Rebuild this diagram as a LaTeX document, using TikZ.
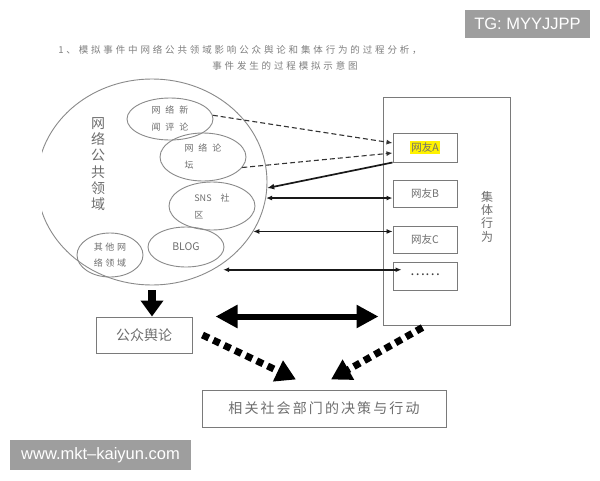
\documentclass[tikz,border=0pt]{standalone}
\usepackage{fontspec}
\setmainfont{Noto Sans CJK SC}
\newfontfamily\cjk{Noto Sans CJK SC}
\newfontfamily\cjkls[LetterSpace=30]{Noto Sans CJK SC}
\newfontfamily\cjkwide[LetterSpace=55]{Noto Sans CJK SC}
\newfontfamily\cjkmid[LetterSpace=15]{Noto Sans CJK SC}
\newfontfamily\wmfont{Liberation Sans}
\usetikzlibrary{shapes.geometric,arrows.meta}
\definecolor{lineg}{HTML}{8A8A8A}
\definecolor{boxg}{HTML}{7A7A7A}
\definecolor{txtg}{HTML}{6E6E6E}
\definecolor{wmg}{HTML}{9E9E9E}
\tikzset{
  ell/.style={ellipse, draw=lineg, line width=0.9pt, inner sep=0pt, align=left,
              font=\fontsize{9}{17}\selectfont\cjkwide, text=txtg},
  boxnode/.style={draw=boxg, line width=1pt, inner sep=0pt},
  ttl/.style={font=\fontsize{9.5}{12}\selectfont\cjkls, text=black!50, inner sep=0pt},
  dasharr/.style={draw=black!80, line width=1.1pt, dash pattern=on 5pt off 3pt,
                  -{Latex[length=6pt,width=5pt]}},
  solidarr/.style={draw=black!90, line width=1.7pt, -{Latex[length=7pt,width=6pt]}},
  dblarr/.style={draw=black!90, line width=1.3pt, {Latex[length=6pt,width=5pt]}-{Latex[length=6pt,width=5pt]}},
  bigdown/.style={draw=black, line width=8pt, -{Triangle[length=16pt,width=22pt]}},
  bigdbl/.style={draw=black, line width=6pt, {Triangle[length=22pt,width=22pt]}-{Triangle[length=22pt,width=22pt]}},
  dotarr/.style={draw=black, line width=7pt, dash pattern=on 7pt off 5pt,
                 -{Triangle[length=20pt,width=22pt]}},
  wm/.style={fill=wmg, text=white, font=\fontsize{16.5}{19}\selectfont\wmfont, inner sep=0pt}
}
\begin{document}
\begin{tikzpicture}[x=1pt,y=-1pt]
\useasboundingbox[fill=white] (0,0) rectangle (600,480);

% title
\node[ttl] (t1) at (240,50) {1、模拟事件中网络公共领域影响公众舆论和集体行为的过程分析，};
\node[ttl] (t2) at (285,66) {事件发生的过程模拟示意图};

% big circle (clipped at the left edge of the scan)
\begin{scope}
  \clip (42,60) rectangle (300,300);
  \node[ellipse, draw=lineg, line width=0.9pt, minimum width=230pt, minimum height=206pt, inner sep=0pt] (circ) at (152,182) {};
\end{scope}
\node[font=\fontsize{14}{16.2}\selectfont\cjk, text=txtg, align=center, inner sep=0pt] (circL) at (98,164) {网\\络\\公\\共\\领\\域};

% inner ellipses
\node[ell, minimum width=86pt, minimum height=42pt] (e1) at (170,119) {网络新\\闻评论};
\node[ell, minimum width=86pt, minimum height=48pt] (e2) at (203,157) {网络论\\坛};
\node[ell, minimum width=86pt, minimum height=48pt] (e3) at (212,206) {{\cjk SNS}\quad 社\\区};
\node[ell, minimum width=76pt, minimum height=40pt, font=\fontsize{10.5}{12}\selectfont\cjk] (e4) at (186,247) {BLOG};
\node[ell, minimum width=66pt, minimum height=44pt, font=\fontsize{9}{16}\selectfont\cjkls] (e5) at (110,255) {其他网\\络领域};

% collective behaviour box
\node[boxnode, minimum width=127pt, minimum height=228pt] (grp) at (446.5,211) {};
\node[font=\fontsize{12}{13.3}\selectfont\cjk, text=txtg, align=center, inner sep=0pt] (grpL) at (487,216.5) {集\\体\\行\\为};
\node[boxnode, minimum width=64pt, minimum height=29pt, font=\fontsize{10.5}{12}\selectfont\cjk, text=txtg] (A) at (425,147.5)
  {\setlength{\fboxsep}{1.5pt}\colorbox{yellow}{网友A}\hspace{12pt}};
\node[boxnode, minimum width=64pt, minimum height=27pt, font=\fontsize{10.5}{12}\selectfont\cjk, text=txtg] (B) at (425,193.5) {网友B\hspace{8pt}};
\node[boxnode, minimum width=64pt, minimum height=27pt, font=\fontsize{10.5}{12}\selectfont\cjk, text=txtg] (C) at (425,239.5) {网友C\hspace{8pt}};
\node[boxnode, minimum width=64pt, minimum height=28pt, font=\fontsize{14}{14}\selectfont\cjk, text=black!75] (D) at (425,276) {\raisebox{3pt}{……}\hspace{14pt}};

% public opinion & decision boxes
\node[boxnode, minimum width=96pt, minimum height=36pt, font=\fontsize{14}{16}\selectfont\cjk, text=txtg] (op) at (144,335) {公众舆论\hspace{12pt}};
\node[boxnode, minimum width=244pt, minimum height=37pt, font=\fontsize{14}{16}\selectfont\cjkmid, text=txtg] (dec) at (324,408.5) {相关社会部门的决策与行动};

% connectors
\draw[dasharr] (e1.5) -- ([yshift=4.5pt]A.west);
\draw[dasharr] (e2.-15) -- ([yshift=-5.5pt]A.west);
\draw[solidarr] (A.south west) -- (circ.-3);
\draw[dblarr] (circ.-8) -- (circ.-8 -| B.west);
\draw[dblarr, line width=0.9pt] (circ.-26) -- (circ.-26 -| C.west);
\coordinate (dl) at ([xshift=5pt,yshift=-3pt]circ.-52);
\draw[dblarr, line width=1.6pt, shorten >=-9pt] (dl) -- (dl -| D.west);
\draw[bigdown, shorten <=5pt] (circ.south) -- (circ.south |- op.north);
\draw[bigdbl, shorten <=23pt, shorten >=4pt] (op.north east) -- (grp.west |- op.north);
\draw[dotarr] ([xshift=10pt]op.east) -- ([xshift=-28pt,yshift=10pt]dec.north);
\draw[dotarr] ([xshift=40pt,yshift=-2pt]grp.south west) -- ([xshift=7pt,yshift=10pt]dec.north);

% watermarks
\node[wm, minimum width=125pt, minimum height=28pt] (wm1) at (527.5,24) {TG: MYYJJPP};
\node[wm, minimum width=181pt, minimum height=30pt] (wm2) at (100.5,455) {www.mkt–kaiyun.com};
\end{tikzpicture}
\end{document}
